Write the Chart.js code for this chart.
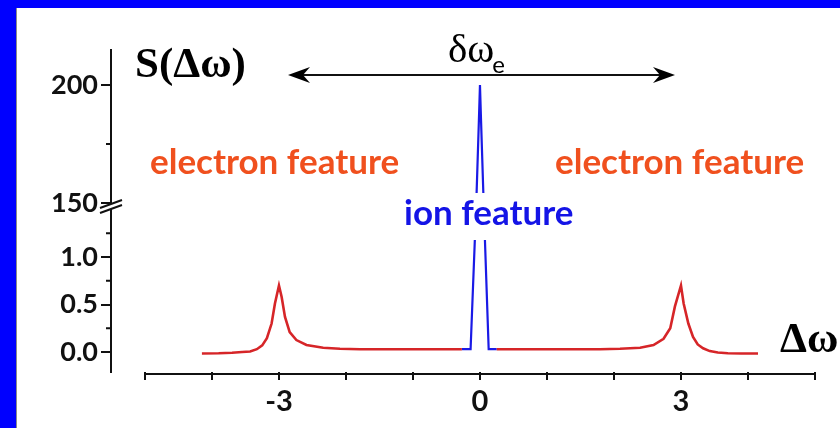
<!DOCTYPE html>
<html>
<head>
<meta charset="utf-8">
<script src="https://cdn.jsdelivr.net/npm/chart.js@4.4.1/dist/chart.umd.min.js"></script>
<style>
  html, body { margin: 0; padding: 0; background: #fff; }
  #frame { position: relative; width: 840px; height: 428px; overflow: hidden; background: #0000ff; }
  #wrap { position: absolute; left: 16px; top: 8px; width: 824px; height: 420px; background: #fff;
          border-left: 1px solid #8a8a8a; box-sizing: border-box; }
  canvas { display: block; }
</style>
</head>
<body>
<div id="frame"><div id="wrap"><canvas id="c" width="823" height="420"></canvas></div></div>
<script>
// electron feature (red)
const redX = [-4.15, -3.9, -3.7, -3.55, -3.43, -3.33, -3.25, -3.18, -3.11, -3.06, -3.0,
  -2.96, -2.91, -2.84, -2.74, -2.59, -2.34, -2.09, -1.79, -1.3, -0.8, -0.27,
  null,
  0.25, 0.8, 1.3, 1.79, 2.09, 2.39, 2.59, 2.74, 2.84, 2.91, 3.0,
  3.04, 3.11, 3.18, 3.25, 3.33, 3.43, 3.55, 3.7, 3.9, 4.15];
const redY = [-0.015, -0.013, -0.008, 0.0, 0.006, 0.03, 0.07, 0.145, 0.30, 0.51, 0.70,
  0.58, 0.37, 0.21, 0.126, 0.074, 0.045, 0.035, 0.03, 0.03, 0.03, 0.03,
  null,
  0.03, 0.03, 0.03, 0.03, 0.035, 0.045, 0.074, 0.14, 0.25, 0.48, 0.70,
  0.51, 0.30, 0.16, 0.08, 0.04, 0.01, -0.005, -0.012, -0.015, -0.015];

// ion feature (blue), lower part on the 0..1.5 axis, upper part on the 150..200 axis
const ionLowX = [-0.27, -0.14, -0.055, null, 0.055, 0.13, 0.25];
const ionLowY = [0.03, 0.03, 1.57, null, 1.57, 0.03, 0.03];
const ionHighX = [-0.055, -0.016, 0, 0.016, 0.055];
const ionHighY = [150, 185, 200, 185, 150];

const xTicks = [-5, -4, -3, -2, -1, 0, 1, 2, 3, 4, 5];
const xLabels = [-3, 0, 3];
const yLowTicks = [0, 0.5, 1.0];
const yLowLabels = ["0.0", "0.5", "1.0"];
const yLowMinor = [0.25, 0.75, 1.25];
const yHighTicks = [150, 200];
const yHighLabels = ["150", "200"];
const yHighMinor = [175];

function pts(xs, ys) {
  return xs.map((x, i) => (x === null ? { x: NaN, y: null } : { x, y: ys[i] }));
}

const overlay = {
  id: "overlay",
  afterDraw(chart) {
    const ctx = chart.ctx;
    const xs = chart.scales.x, yl = chart.scales.y, yh = chart.scales.y2;
    const ax = chart.chartArea.left;
    ctx.save();

    // x axis line, only from -5 to 5
    ctx.strokeStyle = "#111";
    ctx.lineWidth = 2;
    const xb = chart.chartArea.bottom + 2;
    ctx.beginPath();
    ctx.moveTo(xs.getPixelForValue(xTicks[0]), xb);
    ctx.lineTo(xs.getPixelForValue(xTicks[xTicks.length - 1]), xb);
    ctx.stroke();

    // short minor ticks on the y axis
    ctx.beginPath();
    yLowMinor.forEach(v => { const p = yl.getPixelForValue(v); ctx.moveTo(ax - 5, p); ctx.lineTo(ax, p); });
    yHighMinor.forEach(v => { const p = yh.getPixelForValue(v); ctx.moveTo(ax - 5, p); ctx.lineTo(ax, p); });
    ctx.stroke();

    // axis break marks
    const by = yl.top;
    ctx.fillStyle = "#fff";
    ctx.beginPath();
    ctx.moveTo(ax - 11, by + 5); ctx.lineTo(ax + 11, by - 3);
    ctx.lineTo(ax + 11, by + 2); ctx.lineTo(ax - 11, by + 10); ctx.closePath();
    ctx.fill();
    ctx.beginPath();
    ctx.moveTo(ax - 11, by + 5); ctx.lineTo(ax + 11, by - 3);
    ctx.moveTo(ax - 11, by + 10); ctx.lineTo(ax + 11, by + 2);
    ctx.stroke();

    // ion feature label on white box
    ctx.fillStyle = "#fff";
    ctx.fillRect(383, 185, 186, 47);
    ctx.textBaseline = "middle";
    ctx.font = "bold 35px Lato";
    ctx.fillStyle = "#1414e6";
    ctx.fillText("ion feature", 387, 206);

    ctx.fillStyle = "#f0501e";
    ctx.fillText("electron feature", 133, 155);
    ctx.fillText("electron feature", 538, 155);

    // titles
    ctx.textBaseline = "alphabetic";
    ctx.fillStyle = "#000";
    ctx.font = "bold 43px 'Liberation Serif'";
    ctx.fillText("S(\u0394\u03c9)", 118, 69);
    ctx.fillText("\u0394\u03c9", 763, 344);
    ctx.font = "41px 'Liberation Serif'";
    ctx.fillText("\u03b4\u03c9", 431, 54);
    const w = ctx.measureText("\u03b4\u03c9").width;
    ctx.font = "24px Lato";
    ctx.fillText("e", 431 + w - 2, 65);

    // double arrow
    const ay = 67, x0 = 271, x1 = 658;
    ctx.lineWidth = 2;
    ctx.beginPath();
    ctx.moveTo(x0 + 10, ay); ctx.lineTo(x1 - 10, ay);
    ctx.stroke();
    ctx.fillStyle = "#000";
    [[x0, 1], [x1, -1]].forEach(([t, d]) => {
      ctx.beginPath();
      ctx.moveTo(t, ay);
      ctx.lineTo(t + d * 22, ay - 8);
      ctx.lineTo(t + d * 15, ay);
      ctx.lineTo(t + d * 22, ay + 8);
      ctx.closePath();
      ctx.fill();
    });
    ctx.restore();
  }
};

new Chart(document.getElementById("c"), {
  type: "line",
  data: {
    datasets: [
      { data: pts(redX, redY), yAxisID: "y", borderColor: "#d62528", borderWidth: 2.6, spanGaps: false },
      { data: pts(ionLowX, ionLowY), yAxisID: "y", borderColor: "#1a1ae6", borderWidth: 2.2, spanGaps: false },
      { data: pts(ionHighX, ionHighY), yAxisID: "y2", borderColor: "#1a1ae6", borderWidth: 2.2 }
    ]
  },
  options: {
    responsive: false,
    animation: false,
    devicePixelRatio: 1,
    layout: { padding: { left: 14, top: 42, right: 5, bottom: 0 } },
    elements: { point: { radius: 0 }, line: { tension: 0 } },
    plugins: { legend: { display: false }, tooltip: { enabled: false } },
    scales: {
      x: {
        type: "linear", min: -5.507, max: 5.299,
        afterBuildTicks: s => { s.ticks = xTicks.map(v => ({ value: v })); },
        afterFit: s => { s.height = 56; },
        border: { display: false },
        grid: { drawOnChartArea: false, tickLength: 8, color: "#111", lineWidth: 2 },
        ticks: {
          callback: v => (xLabels.includes(v) ? String(v) : ""),
          color: "#111", font: { family: "Lato", weight: "bold", size: 29 }, padding: 4, maxRotation: 0
        }
      },
      y: {
        type: "linear", position: "left", stack: "sy", stackWeight: 169,
        min: -0.21, max: 1.568,
        afterBuildTicks: s => { s.ticks = yLowTicks.map(v => ({ value: v })); },
        afterFit: s => { s.width = 80; },
        border: { display: true, color: "#111", width: 2 },
        grid: { drawOnChartArea: false, tickLength: 10, color: "#111", lineWidth: 2 },
        ticks: {
          callback: v => yLowLabels[yLowTicks.indexOf(v)],
          color: "#111", font: { family: "Lato", weight: "bold", size: 27 }, padding: 3
        }
      },
      y2: {
        type: "linear", position: "left", stack: "sy", stackWeight: 153,
        min: 150, max: 214.8,
        afterBuildTicks: s => { s.ticks = yHighTicks.map(v => ({ value: v })); },
        afterFit: s => { s.width = 80; },
        border: { display: true, color: "#111", width: 2 },
        grid: { drawOnChartArea: false, tickLength: 10, color: "#111", lineWidth: 2 },
        ticks: {
          callback: v => yHighLabels[yHighTicks.indexOf(v)],
          color: "#111", font: { family: "Lato", weight: "bold", size: 27 }, padding: 3
        }
      }
    }
  },
  plugins: [overlay]
});
</script>
</body>
</html>
